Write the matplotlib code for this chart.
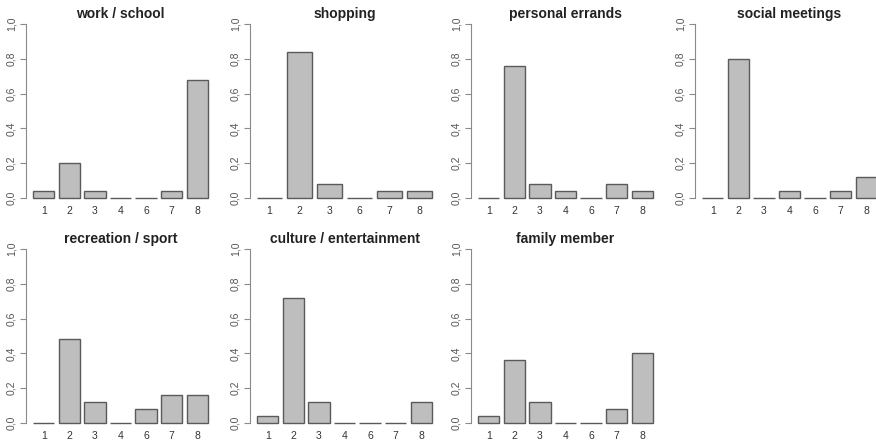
import numpy as np
import matplotlib
matplotlib.use('Agg')
from matplotlib import pyplot as plt

plt.rcParams['font.family'] = ['Liberation Sans', 'DejaVu Sans']

titles = ['work / school', 'shopping', 'personal errands', 'social meetings',
          'recreation / sport', 'culture / entertainment', 'family member']
cats_7 = ['1', '2', '3', '4', '6', '7', '8']
cats_6 = ['1', '2', '3', '6', '7', '8']
cats = [cats_7, cats_6, cats_7, cats_7, cats_7, cats_7, cats_7]

work_school = [0.04, 0.20, 0.04, 0.0, 0.0, 0.04, 0.68]
shopping = [0.0, 0.84, 0.08, 0.0, 0.04, 0.04]
personal_errands = [0.0, 0.76, 0.08, 0.04, 0.0, 0.08, 0.04]
social_meetings = [0.0, 0.80, 0.0, 0.04, 0.0, 0.04, 0.12]
recreation_sport = [0.0, 0.48, 0.12, 0.0, 0.08, 0.16, 0.16]
culture_ent = [0.04, 0.72, 0.12, 0.0, 0.0, 0.0, 0.12]
family_member = [0.04, 0.36, 0.12, 0.0, 0.0, 0.08, 0.40]
valores = [work_school, shopping, personal_errands, social_meetings,
           recreation_sport, culture_ent, family_member]

W, H = 876, 442
fig = plt.figure(figsize=(W / 100, H / 100), dpi=100)

# posiciones en pixeles (izq, arriba) de cada panel
lefts = [26, 250, 471, 695]
tops = [17, 242]
pw, ph = 189, 188

for k, (tit, cs, vals) in enumerate(zip(titles, cats, valores)):
    fila, col = divmod(k, 4)
    x0 = lefts[col]; y0 = tops[fila]
    ax = fig.add_axes([x0 / W, 1 - (y0 + ph) / H, pw / W, ph / H])
    n = len(vals)
    xs = 0.7 + 1.2 * np.arange(n)  # estilo barplot de R (space=0.2)
    ax.bar(xs, vals, width=1.0, color='#bebebe', edgecolor='#5a5a5a', linewidth=1.0)
    D = n * 1.2 - 0.2
    ax.set_xlim(0.2 - 0.04 * D, n * 1.2 + 0.04 * D)
    ax.set_ylim(-0.04, 1.04)
    for s in ['top', 'right', 'bottom']:
        ax.spines[s].set_visible(False)
    ax.spines['left'].set_bounds(0, 1)
    ax.spines['left'].set_color('#8a8a8a')
    ax.set_yticks(np.arange(0, 1.01, 0.2))
    ax.set_yticklabels([f'{v:.1f}'.replace('.', ',') for v in np.arange(0, 1.01, 0.2)],
                       rotation=90, va='center', fontsize=7.5, color='#555555')
    ax.tick_params(axis='y', color='#8a8a8a', length=4, pad=3)
    ax.set_xticks(xs)
    ax.set_xticklabels(cs, fontsize=7.5, color='#333333')
    ax.tick_params(axis='x', length=0, pad=1)
    # y fijo para que no se corra por encima del "1,0"
    ax.set_title(tit, fontsize=10, fontweight='bold', y=1.0, pad=-0.5, color='#222222')
    ax.patch.set_visible(False)

plt.savefig('out.png', dpi=100)
